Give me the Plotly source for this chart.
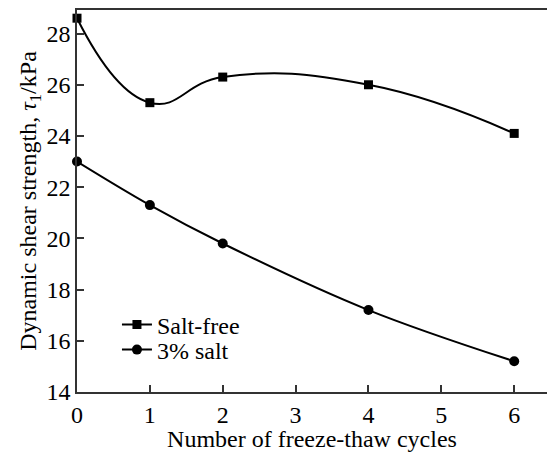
import plotly.graph_objects as go

cycles = [0, 1, 2, 4, 6]
salt_free = [28.6, 25.3, 26.3, 26.0, 24.1]
salt_3 = [23.0, 21.3, 19.8, 17.2, 15.2]
x_ticks = [0, 1, 2, 3, 4, 5, 6]
y_ticks = [14, 16, 18, 20, 22, 24, 26, 28]

FONT = "Liberation Serif"
FS = 24

fig = go.Figure()
fig.add_trace(go.Scatter(
    x=cycles, y=salt_free, name="Salt-free", mode="lines+markers",
    line=dict(color="black", width=2, shape="spline", smoothing=1.3),
    marker=dict(symbol="square", size=9, color="black"),
    cliponaxis=False, legend="legend",
))
fig.add_trace(go.Scatter(
    x=cycles, y=salt_3, name="3% salt", mode="lines+markers",
    line=dict(color="black", width=2, shape="spline", smoothing=1.0),
    marker=dict(symbol="circle", size=10, color="black"),
    cliponaxis=False, legend="legend2",
))

leg_common = dict(
    xanchor="left", yanchor="middle", bgcolor="rgba(0,0,0,0)",
    font=dict(family=FONT, size=FS), itemwidth=30,
)

fig.update_layout(
    width=547, height=452,
    margin=dict(l=77, r=0, t=10, b=60),
    paper_bgcolor="white", plot_bgcolor="white",
    font=dict(family=FONT, size=FS, color="black"),
    showlegend=True,
    legend=dict(x=0.085, y=(392 - 325) / 382, **leg_common),
    legend2=dict(x=0.085, y=(392 - 350) / 382, **leg_common),
    xaxis=dict(
        range=[0, 6.45], tickvals=x_ticks, ticks="inside", ticklen=7,
        tickwidth=1.5, tickcolor="#333", showline=True, linecolor="#333",
        linewidth=1.5, mirror=True, showgrid=False, zeroline=False,
        title=dict(text="Number of freeze-thaw cycles", standoff=3,
                   font=dict(family=FONT, size=FS)),
        tickfont=dict(family=FONT, size=FS),
    ),
    yaxis=dict(
        range=[14, 28.92], tickvals=y_ticks, ticks="inside", ticklen=7,
        tickwidth=1.5, tickcolor="#333", showline=True, linecolor="#333",
        linewidth=1.5, showgrid=False, zeroline=False,
        title=dict(text="Dynamic shear strength, <i>τ</i><sub>1</sub>/kPa",
                   standoff=3, font=dict(family=FONT, size=FS)),
        tickfont=dict(family=FONT, size=FS),
    ),
)

fig.write_html("out.html")
